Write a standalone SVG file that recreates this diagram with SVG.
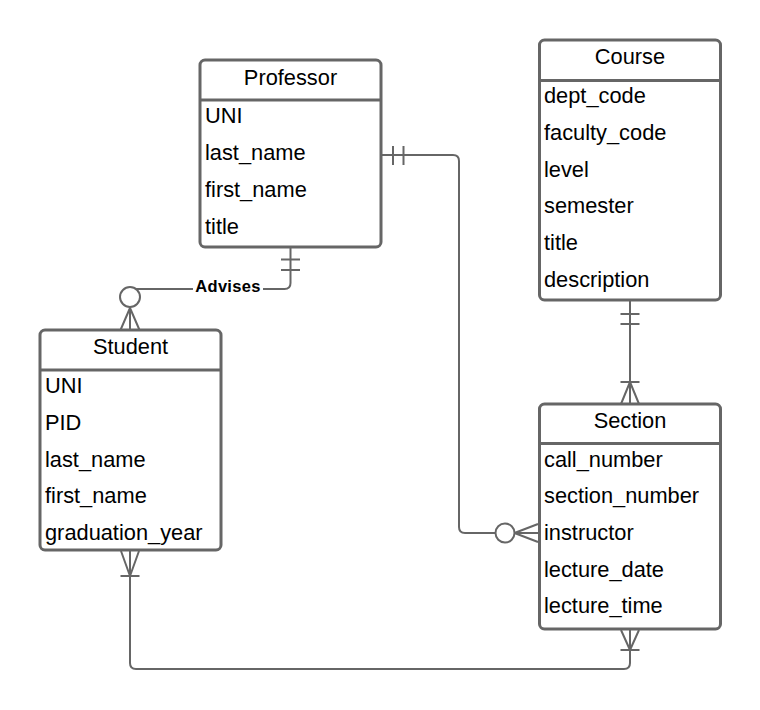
<svg xmlns="http://www.w3.org/2000/svg" width="760" height="710" viewBox="0 0 760 710">
<style>
.box{fill:#fff;stroke:#666;stroke-width:3}
.sep{stroke:#666;stroke-width:3}
.hd{font-family:"Liberation Sans",Arial,sans-serif;font-size:21.8px;fill:#000;text-anchor:middle}
.row{font-family:"Liberation Sans",Arial,sans-serif;font-size:21.8px;fill:#000}
.ln{fill:none;stroke:#666;stroke-width:2}
.lbl{font-family:"Liberation Sans",Arial,sans-serif;font-size:16.5px;font-weight:bold;fill:#000;text-anchor:middle;letter-spacing:0.3px}
</style>
<rect width="760" height="710" fill="#fff"/>
<g id="connectors">
  <!-- Professor - Student (Advises) -->
  <path class="ln" d="M290.5,247 V283 Q290.5,289 284.5,289 H130 V330"/>
  <path class="ln" d="M281,259.5 H300 M281,270 H300"/>
  <circle cx="130" cy="297" r="10" fill="#fff" stroke="#666" stroke-width="2"/>
  <path class="ln" d="M130,307 V330 M130,308 L120.5,330 M130,308 L139.5,330"/>
  <rect x="193" y="277" width="70" height="20" fill="#fff"/>
  <text class="lbl" x="228" y="292">Advises</text>
  <!-- Professor - Section -->
  <path class="ln" d="M381,155 H453 Q459,155 459,161 V527 Q459,533 465,533 H538"/>
  <path class="ln" d="M393,146 V165 M403.5,146 V165"/>
  <circle cx="505" cy="533" r="9.5" fill="#fff" stroke="#666" stroke-width="2"/>
  <path class="ln" d="M514.5,533 L538,524 M514.5,533 L538,542"/>
  <!-- Course - Section -->
  <path class="ln" d="M630,300 V404"/>
  <path class="ln" d="M620.5,314 H639.5 M620.5,324 H639.5"/>
  <path class="ln" d="M620.5,382 H639.5 M630,382 L621,404 M630,382 L639,404"/>
  <!-- Student - Section -->
  <path class="ln" d="M130,550 V663 Q130,669 136,669 H624 Q630,669 630,663 V629"/>
  <path class="ln" d="M120.5,576 H139.5 M130,576 L121,551 M130,576 L139,551"/>
  <path class="ln" d="M620.5,650 H639.5 M630,650 L621,630 M630,650 L639,630"/>
</g>
<g id="professor">
  <rect class="box" x="200" y="60" width="181" height="187" rx="5"/>
  <line class="sep" x1="200" y1="100" x2="381" y2="100"/>
  <text class="hd" x="290.5" y="85">Professor</text>
  <text class="row" x="205" y="123">UNI</text>
  <text class="row" x="205" y="160">last_name</text>
  <text class="row" x="205" y="197">first_name</text>
  <text class="row" x="205" y="234">title</text>
</g>
<g id="student">
  <rect class="box" x="40" y="330" width="181" height="220" rx="5"/>
  <line class="sep" x1="40" y1="370" x2="221" y2="370"/>
  <text class="hd" x="130.5" y="354">Student</text>
  <text class="row" x="45" y="393">UNI</text>
  <text class="row" x="45" y="430">PID</text>
  <text class="row" x="45" y="467">last_name</text>
  <text class="row" x="45" y="503">first_name</text>
  <text class="row" x="45" y="540">graduation_year</text>
</g>
<g id="course">
  <rect class="box" x="539.5" y="40" width="181" height="260" rx="5"/>
  <line class="sep" x1="539.5" y1="80.5" x2="720.5" y2="80.5"/>
  <text class="hd" x="630" y="64">Course</text>
  <text class="row" x="544" y="103">dept_code</text>
  <text class="row" x="544" y="140">faculty_code</text>
  <text class="row" x="544" y="177">level</text>
  <text class="row" x="544" y="213">semester</text>
  <text class="row" x="544" y="250">title</text>
  <text class="row" x="544" y="287">description</text>
</g>
<g id="section">
  <rect class="box" x="539.5" y="404" width="181" height="225" rx="5"/>
  <line class="sep" x1="539.5" y1="443.5" x2="720.5" y2="443.5"/>
  <text class="hd" x="630" y="428">Section</text>
  <text class="row" x="544" y="467">call_number</text>
  <text class="row" x="544" y="503">section_number</text>
  <text class="row" x="544" y="540">instructor</text>
  <text class="row" x="544" y="577">lecture_date</text>
  <text class="row" x="544" y="613">lecture_time</text>
</g>
</svg>
